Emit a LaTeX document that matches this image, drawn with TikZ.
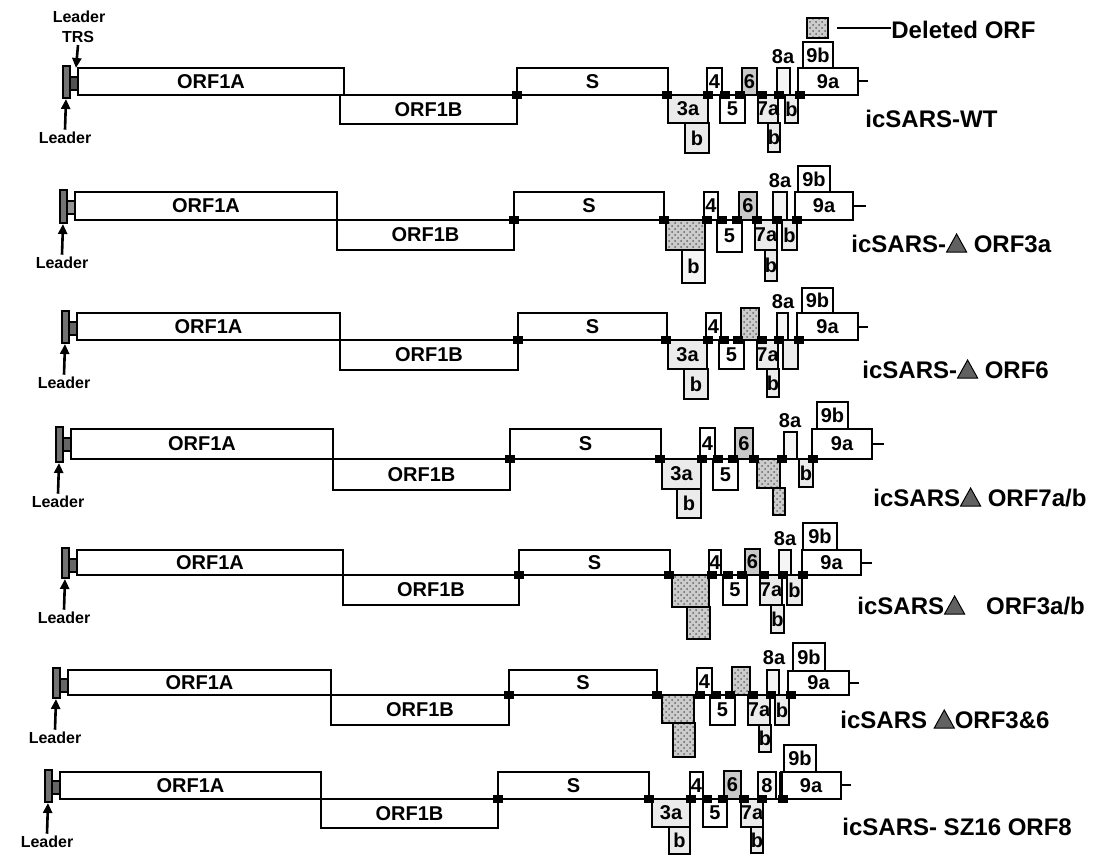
\documentclass[tikz,border=0pt]{standalone}
\usepackage{fontspec}
\setmainfont{Liberation Sans}
\usetikzlibrary{patterns,arrows.meta}
\newcommand{\dtri}{\tikz[baseline=0pt,x=1pt,y=1pt]\draw[line width=0.5pt,fill=black!62](0,0)--(10,0)--(5,9)--cycle;}
\newcommand{\bxl}[7]{\draw[#6] (#2,#3) rectangle (#4,#5); \node[lbl] (#1) at ({(#2+#4)/2},{(#3+#5)/2}) {#7};}
\newcommand{\jn}[2]{\fill ({#1-5},{#2-4}) rectangle ({#1+5},{#2+4});}
\newcommand{\ldr}[5]{%
 \draw[ldrs,fill=black!55] (#1,{#2-2}) rectangle ({#1+7},{#3+3});
 \draw[ldrs,fill=#4] ({#1+7},{#2+9}) rectangle ({#1+15},{#2+22});
 \coordinate (#5t) at ({#1+3},{#3+4});
 \node[sm] (#5) at ({#1+2},{#3+43}) {Leader};
 \draw[larr] (#5.north) -- (#5t);}
\begin{document}
\begin{tikzpicture}[x=0.5pt,y=-0.5pt,
 box/.style={draw=black,line width=1.15pt},
 wb/.style={box,fill=white},
 lb/.style={box,fill=gray!16},
 vb/.style={box,fill=gray!8},
 mb/.style={box,fill=gray!42},
 db/.style={box,preaction={fill=gray!40},pattern=crosshatch dots,pattern color=black!60},
 ln/.style={line width=1.15pt},
 ldrs/.style={draw=black,line width=0.9pt},
 lbl/.style={font=\bfseries\fontsize{10}{12}\selectfont,inner sep=0pt},
 sm/.style={font=\bfseries\fontsize{8}{9.6}\selectfont,inner sep=1pt},
 rl/.style={font=\bfseries\fontsize{12}{14}\selectfont,anchor=base west,inner sep=0pt},
 larr/.style={line width=1.3pt,-{Triangle[length=5pt,width=4.5pt]}}]
\useasboundingbox (0,0) rectangle (1102,856);

% legend
\draw[db] (807,18) rectangle (828,38);
\coordinate (lg) at (837,28);
\node[rl,anchor=west] (del) at (891,30) {Deleted ORF};
\draw[ln] (lg) -- (del.west |- lg);

% leader TRS
\node[sm] (trs1) at (79,17) {Leader};
\node[sm] (trs2) at (78,37) {TRS};
\coordinate (trst) at (76,68);
\draw[larr] (trs2.south) -- (trst);

% ---------- Row 1 ----------
\ldr{63}{68}{95}{black!68}{ld1}
\bxl{r1a}{78}{68}{344}{95}{wb}{ORF1A}
\bxl{r1b}{340}{95}{517}{124}{wb}{ORF1B}
\bxl{r1s}{517}{68}{668}{95}{wb}{S}
\draw[ln] (668,95) -- (798,95);
\bxl{r1x3a}{668}{95}{708}{123}{lb}{3a}
\bxl{r1x3b}{685}{123}{709}{153}{lb}{b}
\bxl{r1x4}{707}{68}{722}{95}{wb}{4}
\bxl{r1x5}{720}{95}{745}{123}{wb}{5}
\bxl{r1x6}{742}{68}{757}{95}{mb}{6}
\bxl{r1x7a}{758}{95}{778}{123}{lb}{7a}
\bxl{r1x7b}{768}{123}{780}{152}{lb}{b}
\bxl{r1x8a}{777}{68}{790}{95}{vb}{}
\node[lbl] (r1l8a) at (783,57) {8a};
\bxl{r1x8b}{785}{95}{798}{123}{lb}{b}
\bxl{r1x9a}{798}{68}{858}{95}{wb}{9a}
\bxl{r1x9b}{803}{42}{833}{68}{wb}{9b}
\draw[ln] (858,81) -- (868,81);
\foreach \x in {517,667,708,725,740,762,779,800} {\jn{\x}{95}}
\node[rl] (n1) at (865,127) {icSARS-WT};

% ---------- Row 2 ----------
\ldr{60}{192}{220}{black!42}{ld2}
\bxl{r2a}{75}{192}{337}{220}{wb}{ORF1A}
\bxl{r2b}{337}{220}{514}{250}{wb}{ORF1B}
\bxl{r2s}{514}{192}{664}{220}{wb}{S}
\draw[ln] (664,220) -- (795,220);
\bxl{r2x3a}{666}{220}{705}{250}{db}{}
\bxl{r2x3b}{682}{250}{705}{283}{vb}{b}
\bxl{r2x4}{704}{192}{718}{220}{wb}{4}
\bxl{r2x5}{717}{220}{742}{252}{wb}{5}
\bxl{r2x6}{739}{192}{757}{220}{mb}{6}
\bxl{r2x7a}{755}{220}{777}{250}{lb}{7a}
\bxl{r2x7b}{765}{250}{777}{281}{lb}{b}
\bxl{r2x8a}{773}{192}{787}{220}{vb}{}
\node[lbl] (r2l8a) at (780,181) {8a};
\bxl{r2x8b}{782}{220}{797}{250}{lb}{b}
\bxl{r2x9a}{795}{192}{853}{220}{wb}{9a}
\bxl{r2x9b}{798}{166}{830}{192}{wb}{9b}
\draw[ln] (853,206) -- (866,206);
\foreach \x in {514,664,707,722,737,757,777,797} {\jn{\x}{220}}
\node[rl] (n2) at (851,252) {icSARS-\dtri{} ORF3a};

% ---------- Row 3 ----------
\ldr{62}{313}{340}{black!60}{ld3}
\bxl{r3a}{77}{313}{340}{340}{wb}{ORF1A}
\bxl{r3b}{340}{340}{518}{370}{wb}{ORF1B}
\bxl{r3s}{518}{313}{667}{340}{wb}{S}
\draw[ln] (667,340) -- (797,340);
\bxl{r3x3a}{668}{340}{707}{369}{lb}{3a}
\bxl{r3x3b}{684}{369}{708}{399}{lb}{b}
\bxl{r3x4}{706}{313}{721}{340}{wb}{4}
\bxl{r3x5}{719}{340}{744}{369}{wb}{5}
\bxl{r3x6}{741}{308}{759}{340}{db}{}
\bxl{r3x7a}{757}{340}{778}{369}{lb}{7a}
\bxl{r3x7b}{767}{369}{779}{397}{lb}{b}
\bxl{r3x8a}{777}{313}{788}{340}{vb}{}
\node[lbl] (r3l8a) at (783,302) {8a};
\bxl{r3x8b}{783}{340}{798}{369}{lb}{}
\bxl{r3x9a}{797}{313}{858}{340}{wb}{9a}
\bxl{r3x9b}{802}{288}{833}{313}{wb}{9b}
\draw[ln] (858,327) -- (868,327);
\foreach \x in {518,666,708,724,738,762,779,799} {\jn{\x}{340}}
\node[rl] (n3) at (862,378) {icSARS-\dtri{} ORF6};

% ---------- Row 4 ----------
\ldr{56}{429}{459}{black!60}{ld4}
\bxl{r4a}{71}{429}{333}{459}{wb}{ORF1A}
\bxl{r4b}{333}{459}{510}{490}{wb}{ORF1B}
\bxl{r4s}{510}{429}{661}{459}{wb}{S}
\draw[ln] (661,459) -- (812,459);
\bxl{r4x3a}{662}{459}{701}{489}{lb}{3a}
\bxl{r4x3b}{677}{489}{701}{518}{lb}{b}
\bxl{r4x4}{700}{428}{715}{459}{wb}{4}
\bxl{r4x5}{713}{459}{738}{490}{wb}{5}
\bxl{r4x6}{735}{428}{753}{459}{mb}{6}
\bxl{r4x7a}{757}{459}{780}{488}{db}{}
\bxl{r4x7b}{773}{488}{785}{515}{db}{}
\bxl{r4x8a}{784}{432}{797}{459}{vb}{}
\node[lbl] (r4l8a) at (790,421) {8a};
\bxl{r4x8b}{799}{459}{813}{487}{lb}{b}
\bxl{r4x9a}{812}{429}{872}{459}{wb}{9a}
\bxl{r4x9b}{817}{402}{848}{429}{wb}{9b}
\draw[ln] (872,444) -- (884,444);
\foreach \x in {510,660,702,718,733,754,782,813} {\jn{\x}{459}}
\node[rl] (n4) at (873,506) {icSARS\dtri{} ORF7a/b};

% ---------- Row 5 ----------
\ldr{62}{550}{575}{black!60}{ld5}
\bxl{r5a}{77}{550}{343}{575}{wb}{ORF1A}
\bxl{r5b}{343}{575}{519}{605}{wb}{ORF1B}
\bxl{r5s}{519}{550}{670}{575}{wb}{S}
\draw[ln] (670,575) -- (802,575);
\bxl{r5x3a}{672}{575}{709}{607}{db}{}
\bxl{r5x3b}{687}{607}{710}{639}{db}{}
\bxl{r5x4}{709}{550}{721}{575}{wb}{4}
\bxl{r5x5}{723}{575}{747}{605}{wb}{5}
\bxl{r5x6}{745}{549}{760}{575}{mb}{6}
\bxl{r5x7a}{760}{575}{782}{605}{lb}{7a}
\bxl{r5x7b}{771}{605}{784}{633}{lb}{b}
\bxl{r5x8a}{779}{550}{791}{575}{vb}{}
\node[lbl] (r5l8a) at (785,539) {8a};
\bxl{r5x8b}{787}{575}{802}{605}{lb}{b}
\bxl{r5x9a}{802}{550}{861}{575}{wb}{9a}
\bxl{r5x9b}{803}{523}{837}{550}{wb}{9b}
\draw[ln] (861,563) -- (872,563);
\foreach \x in {519,669,712,728,742,764,783,803} {\jn{\x}{575}}
\node[rl] (n5) at (857,614) {icSARS\dtri{}\hspace{0.6em} ORF3a/b};

% ---------- Row 6 ----------
\ldr{53}{670}{695}{black!60}{ld6}
\bxl{r6a}{68}{670}{331}{695}{wb}{ORF1A}
\bxl{r6b}{331}{695}{509}{725}{wb}{ORF1B}
\bxl{r6s}{509}{670}{657}{695}{wb}{S}
\draw[ln] (657,695) -- (788,695);
\bxl{r6x3a}{662}{695}{694}{723}{db}{}
\bxl{r6x3b}{673}{723}{695}{757}{db}{}
\bxl{r6x4}{697}{668}{712}{695}{wb}{4}
\bxl{r6x5}{710}{695}{735}{725}{wb}{5}
\bxl{r6x6}{732}{667}{750}{695}{db}{}
\bxl{r6x7a}{748}{695}{770}{725}{lb}{7a}
\bxl{r6x7b}{759}{725}{771}{752}{lb}{b}
\bxl{r6x8a}{767}{670}{779}{695}{vb}{}
\node[lbl] (r6l8a) at (774,658) {8a};
\bxl{r6x8b}{775}{695}{789}{725}{lb}{b}
\bxl{r6x9a}{788}{671}{849}{695}{wb}{9a}
\bxl{r6x9b}{793}{643}{825}{671}{wb}{9b}
\draw[ln] (849,683) -- (859,683);
\foreach \x in {509,657,700,716,730,753,771,791} {\jn{\x}{695}}
\node[rl] (n6) at (840,728) {icSARS \dtri{}ORF3\&6};

% ---------- Row 7 ----------
\ldr{45}{772}{799}{black!60}{ld7}
\bxl{r7a}{60}{772}{321}{799}{wb}{ORF1A}
\bxl{r7b}{321}{799}{498}{828}{wb}{ORF1B}
\bxl{r7s}{498}{772}{649}{799}{wb}{S}
\draw[ln] (649,799) -- (781,799);
\bxl{r7x3a}{652}{799}{690}{827}{lb}{3a}
\bxl{r7x3b}{669}{827}{690}{854}{lb}{b}
\bxl{r7x4}{690}{772}{703}{799}{wb}{4}
\bxl{r7x5}{703}{799}{727}{827}{wb}{5}
\bxl{r7x6}{724}{771}{741}{799}{mb}{6}
\bxl{r7x7a}{741}{799}{763}{827}{lb}{7a}
\bxl{r7x7b}{751}{827}{763}{853}{lb}{b}
\bxl{r7x8}{758}{772}{776}{799}{vb}{8}
\bxl{r7x9a}{781}{772}{841}{799}{wb}{9a}
\draw[line width=2pt] (781,772) -- (781,799);
\bxl{r7x9b}{784}{745}{816}{772}{wb}{9b}
\draw[ln] (841,785) -- (851,785);
\foreach \x in {498,649,691,707,723,744,762,783} {\jn{\x}{799}}
\node[rl] (n7) at (842,835) {icSARS- SZ16 ORF8};
\end{tikzpicture}
\end{document}
